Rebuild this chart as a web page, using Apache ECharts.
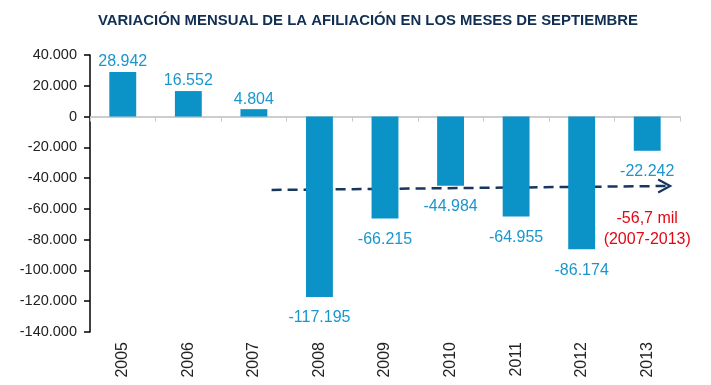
<!DOCTYPE html>
<html><head><meta charset="utf-8">
<script src="https://cdn.jsdelivr.net/npm/echarts@6/dist/echarts.min.js"></script>
<style>html,body{margin:0;padding:0;background:#fff}#c{width:711px;height:385px}</style>
</head><body><div id="c"></div>
<script>
const categories = ['2005','2006','2007','2008','2009','2010','2011','2012','2013'];
const values = [28942, 16552, 4804, -117195, -66215, -44984, -64955, -86174, -22242];
const yTicks = {min: -140000, max: 40000, interval: 20000};
const trendFrom = [2.27, -47700];
const trendTo = [8.35, -45100];
const noteLines = ['-56,7 mil', '(2007-2013)'];

const fmt = v => {
  const s = Math.abs(v).toString().replace(/\B(?=(\d{3})+(?!\d))/g, '.');
  return (v < 0 ? '-' : '') + s;
};
const chart = echarts.init(document.getElementById('c'));
const FONT = '"Liberation Sans", Arial, sans-serif';
chart.setOption({
  animation: false,
  title: {
    text: 'VARIACIÓN MENSUAL DE LA AFILIACIÓN EN LOS MESES DE SEPTIEMBRE',
    left: 363, top: 8, textAlign: 'center',
    textStyle: {fontFamily: FONT, fontSize: 14.9, fontWeight: 'bold', color: '#112f52'}
  },
  grid: {left: 90, right: 31, top: 55, bottom: 53},
  xAxis: [{
    type: 'category', data: categories, position: 'bottom',
    axisLine: {show: false, onZero: false}, axisTick: {show: false},
    axisLabel: {rotate: 90, margin: 10, fontFamily: FONT, fontSize: 16, color: '#222'}
  }, {
    type: 'category', data: categories, position: 'top',
    axisLine: {show: true, onZero: true, lineStyle: {color: '#bdbdbd', width: 1.5}},
    axisTick: {show: true, inside: true, length: 5, lineStyle: {color: '#c8c8c8', width: 1}},
    axisLabel: {show: false}
  }],
  yAxis: {
    type: 'value', min: yTicks.min, max: yTicks.max, interval: yTicks.interval,
    splitLine: {show: false},
    axisLine: {show: true, lineStyle: {color: '#000', width: 1.5}},
    axisTick: {show: true, length: 6, lineStyle: {color: '#000', width: 1.5}},
    axisLabel: {margin: 13, fontFamily: FONT, fontSize: 14.5, color: '#222', formatter: v => fmt(v)}
  },
  series: [{
    type: 'bar', data: values.map(v => ({
      value: v,
      label: {position: v >= 0 ? 'top' : 'bottom', distance: v >= 0 ? 2 : 13}
    })),
    barWidth: '41%',
    itemStyle: {color: '#0b93c8'},
    label: {show: true, fontFamily: FONT, fontSize: 16, color: '#1a96cc', formatter: p => fmt(p.value)}
  }]
});

function place() {
  const px = (pt) => {
    const i = Math.floor(pt[0]);
    const a = chart.convertToPixel({xAxisIndex: 0}, categories[i]);
    const b = chart.convertToPixel({xAxisIndex: 0}, categories[Math.min(i + 1, categories.length - 1)]);
    const step = i + 1 < categories.length ? (b - a) : (a - chart.convertToPixel({xAxisIndex: 0}, categories[i - 1]));
    const x = a + (pt[0] - i) * step;
    const y = chart.convertToPixel({yAxisIndex: 0}, pt[1]);
    return [x, y];
  };
  const p0 = px(trendFrom), p1 = px(trendTo);
  const noteX = px([8.0, 0])[0];
  const noteY = chart.convertToPixel({yAxisIndex: 0}, -59500);
  chart.setOption({graphic: [
    {type: 'line', shape: {x1: p0[0], y1: p0[1], x2: p1[0] - 2, y2: p1[1]},
     style: {stroke: '#17375e', lineWidth: 2.5, lineDash: [10, 6]}},
    {type: 'polyline', shape: {points: [[p1[0] - 12, p1[1] - 6.5], [p1[0], p1[1]], [p1[0] - 12, p1[1] + 6.5]]},
     style: {stroke: '#17375e', lineWidth: 2.2, fill: null}},
    {type: 'text', x: noteX, y: noteY, style: {text: noteLines.join('\n'), align: 'center', verticalAlign: 'top',
      font: '16px ' + FONT, fill: '#e30613', lineHeight: 21}}
  ]});
}
place();
</script></body></html>
